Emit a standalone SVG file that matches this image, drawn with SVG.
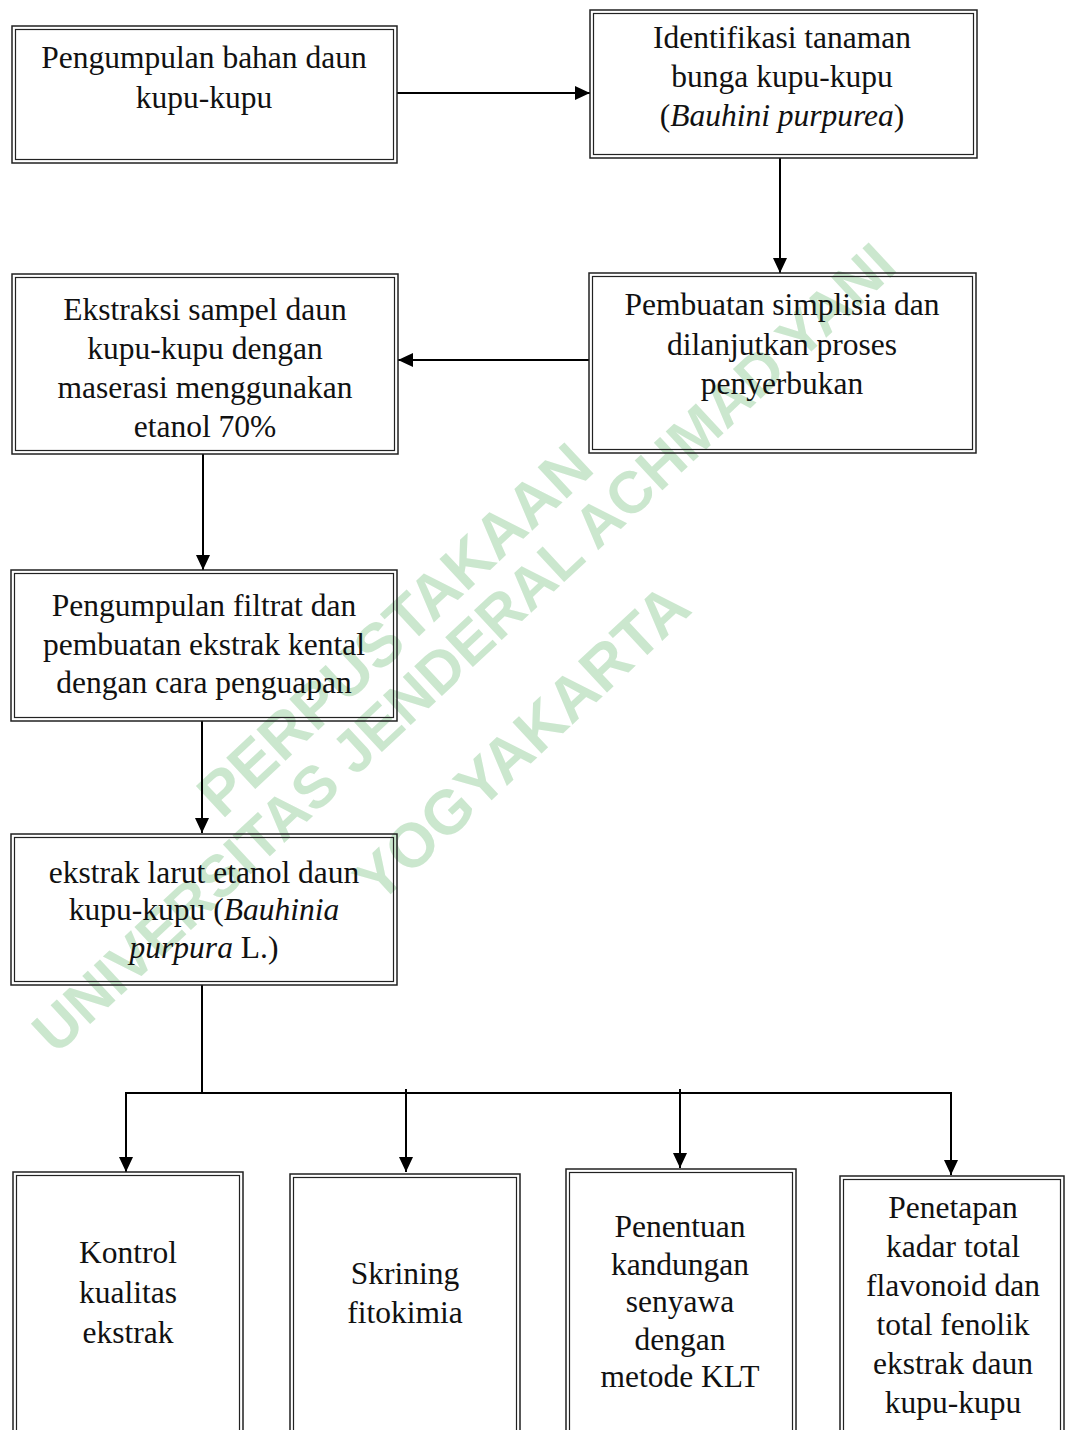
<svg xmlns="http://www.w3.org/2000/svg" width="1066" height="1430" viewBox="0 0 1066 1430">
<style>
.o{fill:none;stroke:#222;stroke-width:1.5}
.i{fill:none;stroke:#222;stroke-width:1.2}
.t{font-family:"Liberation Serif","Times New Roman",serif;font-size:31.5px;fill:#111;text-anchor:middle}
.it{font-style:italic}
.c{fill:none;stroke:#000;stroke-width:2}
.wm{font-family:"Liberation Sans",Arial,sans-serif;font-weight:bold;font-size:62px;fill:#cbe7ce;text-anchor:middle}
</style>
<defs>
<marker id="ah" markerUnits="userSpaceOnUse" markerWidth="16" markerHeight="16" viewBox="0 0 16 14" refX="15" refY="7" orient="auto">
<path d="M0,0 L15,7 L0,14 Z" fill="#000"/>
</marker>
</defs>
<rect width="1066" height="1430" fill="#fff"/>
<g id="watermark">
<text class="wm" x="395" y="651" transform="rotate(-43 395 630)">PERPUSTAKAAN</text>
<text class="wm" x="464" y="668" transform="rotate(-43 464 648)" style="font-size:59px">UNIVERSITAS JENDERAL ACHMAD YANI</text>
<text class="wm" x="522" y="764" transform="rotate(-43 522 743)">YOGYAKARTA</text>
</g>
<g id="connectors">
<line class="c" x1="397" y1="93" x2="590" y2="93" marker-end="url(#ah)"/>
<line class="c" x1="780" y1="158" x2="780" y2="273" marker-end="url(#ah)"/>
<line class="c" x1="589" y1="360" x2="398" y2="360" marker-end="url(#ah)"/>
<line class="c" x1="203" y1="454" x2="203" y2="570" marker-end="url(#ah)"/>
<line class="c" x1="202" y1="721" x2="202" y2="833" marker-end="url(#ah)"/>
<polyline class="c" points="202,985 202,1093"/>
<polyline class="c" points="126,1093 951,1093"/>
<line class="c" x1="126" y1="1092" x2="126" y2="1172" marker-end="url(#ah)"/>
<line class="c" x1="406" y1="1089" x2="406" y2="1172" marker-end="url(#ah)"/>
<line class="c" x1="680" y1="1089" x2="680" y2="1168" marker-end="url(#ah)"/>
<line class="c" x1="951" y1="1092" x2="951" y2="1175" marker-end="url(#ah)"/>
</g>
<g id="n1">
<rect class="o" x="12" y="26" width="385" height="137"/>
<rect class="i" x="15.5" y="29.5" width="378" height="130"/>
<text class="t"><tspan x="204" y="68">Pengumpulan bahan daun</tspan><tspan x="204" y="108">kupu-kupu</tspan></text>
</g>
<g id="n2">
<rect class="o" x="590" y="10" width="387" height="148"/>
<rect class="i" x="593.5" y="13.5" width="380" height="141"/>
<text class="t"><tspan x="782" y="48">Identifikasi tanaman</tspan><tspan x="782" y="87">bunga kupu-kupu</tspan><tspan x="782" y="126">(<tspan class="it">Bauhini purpurea</tspan>)</tspan></text>
</g>
<g id="n3">
<rect class="o" x="589" y="273" width="387" height="180"/>
<rect class="i" x="592.5" y="276.5" width="380" height="173"/>
<text class="t"><tspan x="782" y="315">Pembuatan simplisia dan</tspan><tspan x="782" y="355">dilanjutkan proses</tspan><tspan x="782" y="394">penyerbukan</tspan></text>
</g>
<g id="n4">
<rect class="o" x="12" y="274" width="386" height="180"/>
<rect class="i" x="15.5" y="277.5" width="379" height="173"/>
<text class="t"><tspan x="205" y="320">Ekstraksi sampel daun</tspan><tspan x="205" y="359">kupu-kupu dengan</tspan><tspan x="205" y="398">maserasi menggunakan</tspan><tspan x="205" y="437">etanol 70%</tspan></text>
</g>
<g id="n5">
<rect class="o" x="11" y="570" width="386" height="151"/>
<rect class="i" x="14.5" y="573.5" width="379" height="144"/>
<text class="t"><tspan x="204" y="616">Pengumpulan filtrat dan</tspan><tspan x="204" y="655">pembuatan ekstrak kental</tspan><tspan x="204" y="693">dengan cara penguapan</tspan></text>
</g>
<g id="n6">
<rect class="o" x="11" y="834" width="386" height="151"/>
<rect class="i" x="14.5" y="837.5" width="379" height="144"/>
<text class="t"><tspan x="204" y="883">ekstrak larut etanol daun</tspan><tspan x="204" y="920">kupu-kupu (<tspan class="it">Bauhinia</tspan></tspan><tspan x="204" y="958"><tspan class="it">purpura</tspan> L.)</tspan></text>
</g>
<g id="n7">
<rect class="o" x="13" y="1172" width="230" height="270"/>
<rect class="i" x="16.5" y="1175.5" width="223" height="263"/>
<text class="t"><tspan x="128" y="1263">Kontrol</tspan><tspan x="128" y="1303">kualitas</tspan><tspan x="128" y="1343">ekstrak</tspan></text>
</g>
<g id="n8">
<rect class="o" x="290" y="1174" width="230" height="270"/>
<rect class="i" x="293.5" y="1177.5" width="223" height="263"/>
<text class="t"><tspan x="405" y="1284">Skrining</tspan><tspan x="405" y="1323">fitokimia</tspan></text>
</g>
<g id="n9">
<rect class="o" x="566" y="1169" width="230" height="275"/>
<rect class="i" x="569.5" y="1172.5" width="223" height="268"/>
<text class="t"><tspan x="680" y="1237">Penentuan</tspan><tspan x="680" y="1275">kandungan</tspan><tspan x="680" y="1312">senyawa</tspan><tspan x="680" y="1350">dengan</tspan><tspan x="680" y="1387">metode KLT</tspan></text>
</g>
<g id="n10">
<rect class="o" x="840" y="1176" width="224" height="270"/>
<rect class="i" x="843.5" y="1179.5" width="217" height="263"/>
<text class="t"><tspan x="953" y="1218">Penetapan</tspan><tspan x="953" y="1257">kadar total</tspan><tspan x="953" y="1296">flavonoid dan</tspan><tspan x="953" y="1335">total fenolik</tspan><tspan x="953" y="1374">ekstrak daun</tspan><tspan x="953" y="1413">kupu-kupu</tspan></text>
</g>
</svg>
